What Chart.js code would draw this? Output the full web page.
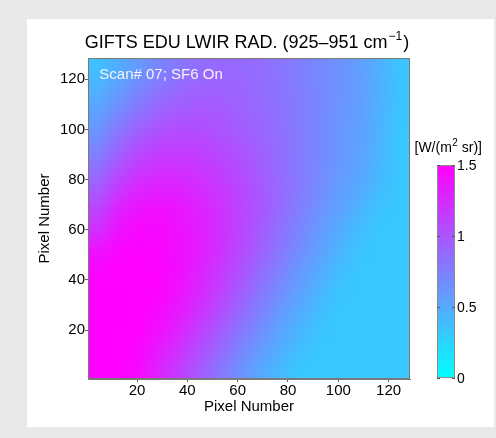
<!DOCTYPE html>
<html>
<head>
<meta charset="utf-8">
<script src="https://cdn.jsdelivr.net/npm/chart.js@4/dist/chart.umd.min.js"></script>
<style>
  html, body { margin: 0; padding: 0; background: #e9e9e9; }
  #panneau { position: absolute; left: 27px; top: 19px; width: 467px; height: 408px; background: #fff; }
  canvas { display: block; }
</style>
</head>
<body>
<div id="panneau"><canvas id="carte" width="467" height="408"></canvas></div>
<script>
// centres des cellules (pixels détecteur)
const xCentres = [4.5, 12.5, 20.5, 28.5, 36.5, 44.5, 52.5, 60.5, 68.5, 76.5, 84.5, 92.5, 100.5, 108.5, 116.5, 124.5];
const yCentres = [124.5, 116.5, 108.5, 100.5, 92.5, 84.5, 76.5, 68.5, 60.5, 52.5, 44.5, 36.5, 28.5, 20.5, 12.5, 4.5];

// radiance [W/(m2 sr)], une ligne par yCentres (du haut vers le bas)
const radiance = [
  [0.37, 0.48, 0.60, 0.71, 0.80, 0.86, 0.89, 0.89, 0.86, 0.81, 0.76, 0.70, 0.64, 0.57, 0.46, 0.34],
  [0.45, 0.57, 0.70, 0.80, 0.88, 0.92, 0.93, 0.91, 0.87, 0.82, 0.76, 0.70, 0.64, 0.58, 0.47, 0.35],
  [0.53, 0.67, 0.80, 0.90, 0.96, 0.98, 0.97, 0.93, 0.88, 0.83, 0.77, 0.70, 0.63, 0.57, 0.46, 0.34],
  [0.62, 0.78, 0.92, 1.01, 1.04, 1.04, 1.01, 0.96, 0.91, 0.84, 0.77, 0.70, 0.62, 0.56, 0.45, 0.33],
  [0.72, 0.90, 1.04, 1.11, 1.13, 1.11, 1.07, 1.01, 0.94, 0.86, 0.78, 0.70, 0.62, 0.55, 0.44, 0.33],
  [0.84, 1.03, 1.16, 1.22, 1.22, 1.19, 1.13, 1.05, 0.96, 0.87, 0.78, 0.69, 0.60, 0.53, 0.42, 0.33],
  [0.96, 1.16, 1.28, 1.32, 1.30, 1.25, 1.18, 1.09, 0.99, 0.88, 0.78, 0.68, 0.58, 0.50, 0.40, 0.33],
  [1.10, 1.30, 1.39, 1.41, 1.38, 1.31, 1.22, 1.11, 1.00, 0.88, 0.76, 0.65, 0.55, 0.45, 0.35, 0.33],
  [1.22, 1.39, 1.45, 1.45, 1.40, 1.33, 1.23, 1.11, 0.98, 0.85, 0.72, 0.60, 0.49, 0.39, 0.33, 0.33],
  [1.38, 1.47, 1.49, 1.47, 1.42, 1.34, 1.23, 1.09, 0.95, 0.81, 0.68, 0.56, 0.45, 0.35, 0.33, 0.33],
  [1.47, 1.50, 1.50, 1.48, 1.42, 1.32, 1.19, 1.04, 0.89, 0.75, 0.62, 0.50, 0.40, 0.33, 0.33, 0.33],
  [1.50, 1.50, 1.50, 1.48, 1.40, 1.29, 1.14, 0.98, 0.83, 0.69, 0.56, 0.45, 0.35, 0.33, 0.33, 0.33],
  [1.50, 1.50, 1.50, 1.46, 1.36, 1.23, 1.07, 0.91, 0.76, 0.62, 0.50, 0.40, 0.33, 0.33, 0.33, 0.33],
  [1.50, 1.50, 1.50, 1.42, 1.30, 1.15, 0.99, 0.83, 0.68, 0.55, 0.44, 0.35, 0.33, 0.33, 0.33, 0.33],
  [1.50, 1.50, 1.47, 1.36, 1.22, 1.06, 0.90, 0.74, 0.60, 0.48, 0.38, 0.33, 0.33, 0.33, 0.33, 0.33],
  [1.50, 1.50, 1.45, 1.30, 1.15, 0.98, 0.82, 0.66, 0.52, 0.42, 0.33, 0.33, 0.33, 0.33, 0.33, 0.33]
];

const xTicks = [20, 40, 60, 80, 100, 120];
const yTicks = [20, 40, 60, 80, 100, 120];
const cbTicks = [0, 0.5, 1, 1.5];
const cbTickLabels = ["0", "0.5", "1", "1.5"];
const vMin = 0;
const vMax = 1.5;

const police = "'Liberation Sans', Arial, Helvetica, sans-serif";

// palette "cool" : cyan -> magenta
function cool(v) {
  let t = (v - vMin) / (vMax - vMin);
  t = Math.max(0, Math.min(1, t));
  return [Math.round(255 * t), Math.round(255 * (1 - t)), 255];
}

const points = [];
yCentres.forEach((yc, j) => {
  xCentres.forEach((xc, i) => points.push({ x: xc, y: yc, v: radiance[j][i] }));
});

const carteChaleur = {
  id: "carteChaleur",
  beforeDatasetsDraw(chart) {
    const { ctx, scales: { x, y } } = chart;
    const nx = xCentres.length, ny = yCentres.length;
    const hors = document.createElement("canvas");
    hors.width = nx;
    hors.height = ny;
    const hctx = hors.getContext("2d");
    const img = hctx.createImageData(nx, ny);
    radiance.forEach((ligne, j) => {
      ligne.forEach((v, i) => {
        const [r, g, b] = cool(v);
        const k = (j * nx + i) * 4;
        img.data[k] = r;
        img.data[k + 1] = g;
        img.data[k + 2] = b;
        img.data[k + 3] = 255;
      });
    });
    hctx.putImageData(img, 0, 0);

    const demi = (xCentres[1] - xCentres[0]) / 2;
    const x0 = x.getPixelForValue(xCentres[0] - demi);
    const x1 = x.getPixelForValue(xCentres[nx - 1] + demi);
    const y0 = y.getPixelForValue(yCentres[0] + demi);
    const y1 = y.getPixelForValue(yCentres[ny - 1] - demi);
    ctx.save();
    ctx.imageSmoothingEnabled = true;
    ctx.imageSmoothingQuality = "medium";
    ctx.drawImage(hors, x0, y0, x1 - x0, y1 - y0);
    ctx.restore();
  },
  afterDraw(chart) {
    const { ctx, chartArea: a, scales: { x, y } } = chart;
    ctx.save();

    // cadre du graphique
    ctx.strokeStyle = "#7a7a7a";
    ctx.lineWidth = 1;
    ctx.strokeRect(a.left + 0.5, a.top + 0.5, a.right - a.left - 1, a.bottom - a.top - 1);

    // annotation
    ctx.fillStyle = "#f4f4f4";
    ctx.font = "15px " + police;
    ctx.textAlign = "left";
    ctx.textBaseline = "alphabetic";
    ctx.fillText("Scan# 07; SF6 On", x.getPixelForValue(5), y.getPixelForValue(120));

    // titre avec exposant
    ctx.fillStyle = "#000";
    const base = "GIFTS EDU LWIR RAD. (925\u2013951 cm";
    const sup = "\u22121";
    ctx.font = "18px " + police;
    const wBase = ctx.measureText(base).width;
    const wFin = ctx.measureText(")").width;
    ctx.font = "12px " + police;
    const wSup = ctx.measureText(sup).width;
    let tx = 219 - (wBase + wSup + wFin) / 2;
    const ty = 29;
    ctx.font = "18px " + police;
    ctx.fillText(base, tx, ty);
    tx += wBase;
    ctx.font = "12px " + police;
    ctx.fillText(sup, tx + 1, ty - 8);
    tx += wSup + 2;
    ctx.font = "18px " + police;
    ctx.fillText(")", tx, ty);

    // barre de couleur
    const cbL = 410, cbR = 428, cbT = 146, cbB = 359;
    const cbPix = v => cbB - (v - vMin) / (vMax - vMin) * (cbB - cbT);
    const grad = ctx.createLinearGradient(0, cbB, 0, cbT);
    const [r0, g0, b0] = cool(vMin);
    const [r1, g1, b1] = cool(vMax);
    grad.addColorStop(0, `rgb(${r0},${g0},${b0})`);
    grad.addColorStop(1, `rgb(${r1},${g1},${b1})`);
    ctx.fillStyle = grad;
    ctx.fillRect(cbL, cbT, cbR - cbL, cbB - cbT);
    ctx.strokeStyle = "#8a8a8a";
    ctx.strokeRect(cbL + 0.5, cbT + 0.5, cbR - cbL - 1, cbB - cbT - 1);

    ctx.fillStyle = "#000";
    ctx.font = "14px " + police;
    ctx.textBaseline = "middle";
    cbTicks.forEach((v, i) => {
      const py = Math.round(cbPix(v)) + 0.5;
      ctx.strokeStyle = "#555";
      ctx.beginPath();
      ctx.moveTo(cbL, py); ctx.lineTo(cbL + 3, py);
      ctx.moveTo(cbR - 3, py); ctx.lineTo(cbR, py);
      ctx.stroke();
      ctx.fillText(cbTickLabels[i], cbR + 2, cbPix(v) + 1);
    });

    // unité de la barre
    ctx.textBaseline = "alphabetic";
    const u1 = "[W/(m", u2 = "2", u3 = " sr)]";
    ctx.font = "14px " + police;
    const w1 = ctx.measureText(u1).width, w3 = ctx.measureText(u3).width;
    ctx.font = "10px " + police;
    const w2 = ctx.measureText(u2).width;
    let ux = 421 - (w1 + w2 + w3) / 2;
    const uy = 133;
    ctx.font = "14px " + police;
    ctx.fillText(u1, ux, uy);
    ux += w1;
    ctx.font = "10px " + police;
    ctx.fillText(u2, ux + 0.5, uy - 6);
    ux += w2 + 0.5;
    ctx.font = "14px " + police;
    ctx.fillText(u3, ux, uy);

    ctx.restore();
  }
};

const axe = (ticksListe, titre, horizontal) => ({
  type: "linear",
  min: 0.5,
  max: 128.5,
  afterBuildTicks: s => { s.ticks = ticksListe.map(v => ({ value: v })); },
  afterFit: s => { if (horizontal) s.height = 48; else s.width = 61; },
  grid: { drawOnChartArea: false, tickLength: 3, color: "#666" },
  border: { color: "#7a7a7a" },
  ticks: {
    padding: 0,
    color: "#000",
    autoSkip: false,
    maxRotation: 0,
    font: { size: 15, family: police }
  },
  title: {
    display: true,
    text: titre,
    color: "#000",
    font: { size: 15, family: police },
    padding: horizontal ? { top: 0, bottom: 11 } : { top: 9, bottom: 0 }
  }
});

new Chart(document.getElementById("carte"), {
  type: "scatter",
  data: {
    datasets: [{
      label: "radiance",
      data: points,
      pointRadius: 0,
      pointHoverRadius: 0
    }]
  },
  options: {
    responsive: false,
    animation: false,
    events: [],
    layout: { padding: { left: 0, top: 39, right: 84, bottom: 0 } },
    plugins: {
      legend: { display: false },
      tooltip: { enabled: false }
    },
    scales: {
      x: axe(xTicks, "Pixel Number", true),
      y: axe(yTicks, "Pixel Number", false)
    }
  },
  plugins: [carteChaleur]
});
</script>
</body>
</html>
